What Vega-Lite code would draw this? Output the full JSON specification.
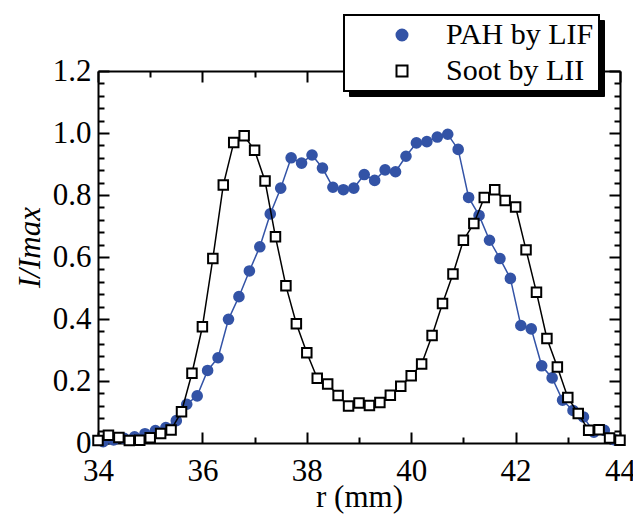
{
  "$schema": "https://vega.github.io/schema/vega-lite/v6.json",
  "width": 522,
  "height": 372,
  "autosize": {"type": "none"},
  "padding": {"left": 98, "top": 71, "right": 13, "bottom": 73},
  "config": {"view": {"stroke": null}},
  "data": {
    "values": [
      {"series": "PAH by LIF", "r": 34.1, "I": 0.004},
      {"series": "PAH by LIF", "r": 34.3, "I": 0.01},
      {"series": "PAH by LIF", "r": 34.5, "I": 0.015},
      {"series": "PAH by LIF", "r": 34.7, "I": 0.02},
      {"series": "PAH by LIF", "r": 34.9, "I": 0.03},
      {"series": "PAH by LIF", "r": 35.1, "I": 0.04},
      {"series": "PAH by LIF", "r": 35.3, "I": 0.05},
      {"series": "PAH by LIF", "r": 35.5, "I": 0.072},
      {"series": "PAH by LIF", "r": 35.7, "I": 0.125},
      {"series": "PAH by LIF", "r": 35.9, "I": 0.152},
      {"series": "PAH by LIF", "r": 36.1, "I": 0.234},
      {"series": "PAH by LIF", "r": 36.3, "I": 0.275},
      {"series": "PAH by LIF", "r": 36.5, "I": 0.399},
      {"series": "PAH by LIF", "r": 36.7, "I": 0.472},
      {"series": "PAH by LIF", "r": 36.9, "I": 0.555},
      {"series": "PAH by LIF", "r": 37.1, "I": 0.633},
      {"series": "PAH by LIF", "r": 37.3, "I": 0.739},
      {"series": "PAH by LIF", "r": 37.5, "I": 0.822},
      {"series": "PAH by LIF", "r": 37.7, "I": 0.92},
      {"series": "PAH by LIF", "r": 37.9, "I": 0.903},
      {"series": "PAH by LIF", "r": 38.1, "I": 0.929},
      {"series": "PAH by LIF", "r": 38.3, "I": 0.887},
      {"series": "PAH by LIF", "r": 38.5, "I": 0.825},
      {"series": "PAH by LIF", "r": 38.7, "I": 0.817},
      {"series": "PAH by LIF", "r": 38.9, "I": 0.822},
      {"series": "PAH by LIF", "r": 39.1, "I": 0.866},
      {"series": "PAH by LIF", "r": 39.3, "I": 0.847},
      {"series": "PAH by LIF", "r": 39.5, "I": 0.881},
      {"series": "PAH by LIF", "r": 39.7, "I": 0.875},
      {"series": "PAH by LIF", "r": 39.9, "I": 0.925},
      {"series": "PAH by LIF", "r": 40.1, "I": 0.968},
      {"series": "PAH by LIF", "r": 40.3, "I": 0.972},
      {"series": "PAH by LIF", "r": 40.5, "I": 0.987},
      {"series": "PAH by LIF", "r": 40.7, "I": 0.996},
      {"series": "PAH by LIF", "r": 40.9, "I": 0.947},
      {"series": "PAH by LIF", "r": 41.1, "I": 0.792},
      {"series": "PAH by LIF", "r": 41.3, "I": 0.734},
      {"series": "PAH by LIF", "r": 41.5, "I": 0.654},
      {"series": "PAH by LIF", "r": 41.7, "I": 0.595},
      {"series": "PAH by LIF", "r": 41.9, "I": 0.531},
      {"series": "PAH by LIF", "r": 42.1, "I": 0.379},
      {"series": "PAH by LIF", "r": 42.3, "I": 0.368},
      {"series": "PAH by LIF", "r": 42.5, "I": 0.249},
      {"series": "PAH by LIF", "r": 42.7, "I": 0.21},
      {"series": "PAH by LIF", "r": 42.9, "I": 0.138},
      {"series": "PAH by LIF", "r": 43.1, "I": 0.105},
      {"series": "PAH by LIF", "r": 43.3, "I": 0.084},
      {"series": "PAH by LIF", "r": 43.5, "I": 0.035},
      {"series": "PAH by LIF", "r": 43.7, "I": 0.041},
      {"series": "PAH by LIF", "r": 43.9, "I": 0.01},
      {"series": "Soot by LII", "r": 34.0, "I": 0.008},
      {"series": "Soot by LII", "r": 34.2, "I": 0.025},
      {"series": "Soot by LII", "r": 34.4, "I": 0.018},
      {"series": "Soot by LII", "r": 34.6, "I": 0.008},
      {"series": "Soot by LII", "r": 34.8, "I": 0.009},
      {"series": "Soot by LII", "r": 35.0, "I": 0.017},
      {"series": "Soot by LII", "r": 35.2, "I": 0.031},
      {"series": "Soot by LII", "r": 35.4, "I": 0.042},
      {"series": "Soot by LII", "r": 35.6, "I": 0.101},
      {"series": "Soot by LII", "r": 35.8, "I": 0.225},
      {"series": "Soot by LII", "r": 36.0, "I": 0.375},
      {"series": "Soot by LII", "r": 36.2, "I": 0.595},
      {"series": "Soot by LII", "r": 36.4, "I": 0.832},
      {"series": "Soot by LII", "r": 36.6, "I": 0.969},
      {"series": "Soot by LII", "r": 36.8, "I": 0.991},
      {"series": "Soot by LII", "r": 37.0, "I": 0.944},
      {"series": "Soot by LII", "r": 37.2, "I": 0.845},
      {"series": "Soot by LII", "r": 37.4, "I": 0.665},
      {"series": "Soot by LII", "r": 37.6, "I": 0.507},
      {"series": "Soot by LII", "r": 37.8, "I": 0.385},
      {"series": "Soot by LII", "r": 38.0, "I": 0.291},
      {"series": "Soot by LII", "r": 38.2, "I": 0.209},
      {"series": "Soot by LII", "r": 38.4, "I": 0.19},
      {"series": "Soot by LII", "r": 38.6, "I": 0.153},
      {"series": "Soot by LII", "r": 38.8, "I": 0.119},
      {"series": "Soot by LII", "r": 39.0, "I": 0.129},
      {"series": "Soot by LII", "r": 39.2, "I": 0.121},
      {"series": "Soot by LII", "r": 39.4, "I": 0.131},
      {"series": "Soot by LII", "r": 39.6, "I": 0.154},
      {"series": "Soot by LII", "r": 39.8, "I": 0.183},
      {"series": "Soot by LII", "r": 40.0, "I": 0.217},
      {"series": "Soot by LII", "r": 40.2, "I": 0.255},
      {"series": "Soot by LII", "r": 40.4, "I": 0.347},
      {"series": "Soot by LII", "r": 40.6, "I": 0.45},
      {"series": "Soot by LII", "r": 40.8, "I": 0.545},
      {"series": "Soot by LII", "r": 41.0, "I": 0.654},
      {"series": "Soot by LII", "r": 41.2, "I": 0.708},
      {"series": "Soot by LII", "r": 41.4, "I": 0.792},
      {"series": "Soot by LII", "r": 41.6, "I": 0.817},
      {"series": "Soot by LII", "r": 41.8, "I": 0.782},
      {"series": "Soot by LII", "r": 42.0, "I": 0.761},
      {"series": "Soot by LII", "r": 42.2, "I": 0.623},
      {"series": "Soot by LII", "r": 42.4, "I": 0.486},
      {"series": "Soot by LII", "r": 42.6, "I": 0.337},
      {"series": "Soot by LII", "r": 42.8, "I": 0.245},
      {"series": "Soot by LII", "r": 43.0, "I": 0.147},
      {"series": "Soot by LII", "r": 43.2, "I": 0.095},
      {"series": "Soot by LII", "r": 43.4, "I": 0.041},
      {"series": "Soot by LII", "r": 43.6, "I": 0.043},
      {"series": "Soot by LII", "r": 43.8, "I": 0.016},
      {"series": "Soot by LII", "r": 44.0, "I": 0.009}
    ]
  },
  "resolve": {"axis": {"x": "independent", "y": "independent"}},
  "layer": [
    {
      "transform": [{"filter": "datum.series === 'PAH by LIF'"}],
      "mark": {"type": "line", "strokeWidth": 1.5, "color": "#3353a6"},
      "encoding": {
        "x": {
          "field": "r", "type": "quantitative",
          "scale": {"domain": [34, 44], "nice": false, "zero": false},
          "axis": {
            "orient": "bottom",
            "grid": false,
            "values": [34, 36, 38, 40, 42, 44],
            "domainColor": "black", "domainWidth": 2,
            "tickColor": "black", "tickWidth": 2, "tickSize": -11,
            "labelFont": "Liberation Serif", "labelFontSize": 31, "labelColor": "black",
            "labelPadding": 24,
            "labelFlush": false,
            "title": "r (mm)",
            "titleFont": "Liberation Serif", "titleFontSize": 31, "titleFontWeight": "normal", "titleColor": "black",
            "titlePadding": -4
          }
        },
        "y": {
          "field": "I", "type": "quantitative",
          "scale": {"domain": [0, 1.2], "nice": false},
          "axis": {
            "orient": "left",
            "grid": false,
            "values": [0, 0.2, 0.4, 0.6, 0.8, 1.0, 1.2],
            "labelExpr": "datum.value === 0 ? '0' : format(datum.value, '.1f')",
            "domainColor": "black", "domainWidth": 2,
            "tickColor": "black", "tickWidth": 2, "tickSize": -11,
            "labelFont": "Liberation Serif", "labelFontSize": 31, "labelColor": "black",
            "labelPadding": 18,
            "title": "I/Imax",
            "titleFont": "Liberation Serif", "titleFontSize": 31, "titleFontWeight": "normal", "titleColor": "black",
            "titleFontStyle": "italic",
            "titlePadding": 6,
            "titleY": 176
          }
        },
        "opacity": {
          "field": "series", "type": "nominal",
          "scale": {"domain": ["Soot by LII", "PAH by LIF"], "range": [1, 1]},
          "legend": {
            "orient": "none",
            "legendX": 251,
            "legendY": -51,
            "title": null,
            "fillColor": "black",
            "strokeColor": "black",
            "padding": 5,
            "labelFont": "Liberation Serif",
            "labelFontSize": 30,
            "labelColor": "black",
            "labelLimit": 400,
            "labelExpr": "datum.label + '\u00a0'",
            "symbolSize": 121,
            "symbolOffset": 38,
            "labelOffset": 29,
            "rowPadding": 6,
            "encode": {
              "symbols": {
                "update": {
                  "fill": {"value": "black"},
                  "stroke": {"value": "black"},
                  "opacity": {"value": 0}
                }
              }
            }
          }
        }
      }
    },
    {
      "transform": [{"filter": "datum.series === 'PAH by LIF'"}],
      "mark": {"type": "point", "shape": "circle", "filled": true, "size": 135, "color": "#3353a6", "opacity": 1},
      "encoding": {
        "x": {
          "field": "r", "type": "quantitative",
          "axis": {"orient": "bottom", "grid": false, "values": [35, 37, 39, 41, 43], "labels": false, "domain": false, "title": null, "tickColor": "black", "tickWidth": 2, "tickSize": -6}
        },
        "y": {
          "field": "I", "type": "quantitative",
          "axis": {"orient": "left", "grid": false, "values": [0.04, 0.08, 0.12, 0.16, 0.24, 0.28, 0.32, 0.36, 0.44, 0.48, 0.52, 0.56, 0.64, 0.68, 0.72, 0.76, 0.84, 0.88, 0.92, 0.96, 1.04, 1.08, 1.12, 1.16], "labels": false, "domain": false, "title": null, "tickColor": "black", "tickWidth": 2, "tickSize": -6}
        }
      }
    },
    {
      "transform": [{"filter": "datum.series === 'Soot by LII'"}],
      "mark": {"type": "line", "strokeWidth": 1.5},
      "encoding": {
        "x": {
          "field": "r", "type": "quantitative",
          "axis": {"orient": "top", "grid": false, "values": [34, 36, 38, 40, 42, 44], "labels": false, "title": null, "domainColor": "black", "domainWidth": 2, "tickColor": "black", "tickWidth": 2, "tickSize": -11}
        },
        "y": {
          "field": "I", "type": "quantitative",
          "axis": {"orient": "right", "grid": false, "values": [0, 0.2, 0.4, 0.6, 0.8, 1.0, 1.2], "labels": false, "title": null, "domainColor": "black", "domainWidth": 2, "tickColor": "black", "tickWidth": 2, "tickSize": -11}
        },
        "color": {
          "field": "series", "type": "nominal",
          "scale": {"domain": ["PAH by LIF", "Soot by LII"], "range": ["#3353a6", "black"]},
          "legend": {
            "orient": "none",
            "legendX": 246,
            "legendY": -56,
            "title": null,
            "fillColor": "white",
            "strokeColor": "black",
            "padding": 5,
            "labelFont": "Liberation Serif",
            "labelFontSize": 30,
            "labelColor": "black",
            "labelLimit": 400,
            "labelExpr": "datum.label + '\u00a0'",
            "symbolSize": 121,
            "symbolOffset": 38,
            "labelOffset": 29,
            "rowPadding": 6,
            "encode": {
              "legend": {"update": {"strokeWidth": {"value": 2}}},
              "symbols": {
                "update": {
                  "shape": {"signal": "datum.value === 'PAH by LIF' ? 'circle' : 'square'"},
                  "fill": {"signal": "datum.value === 'PAH by LIF' ? '#3353a6' : 'white'"},
                  "stroke": {"signal": "datum.value === 'PAH by LIF' ? '#3353a6' : 'black'"},
                  "strokeWidth": {"value": 2},
                  "opacity": {"value": 1}
                }
              }
            }
          }
        }
      }
    },
    {
      "transform": [{"filter": "datum.series === 'Soot by LII'"}],
      "mark": {"type": "point", "shape": "square", "filled": false, "fill": "white", "stroke": "black", "strokeWidth": 2, "size": 90, "opacity": 1},
      "encoding": {
        "x": {
          "field": "r", "type": "quantitative",
          "axis": {"orient": "top", "grid": false, "values": [35, 37, 39, 41, 43], "labels": false, "domain": false, "title": null, "tickColor": "black", "tickWidth": 2, "tickSize": -6}
        },
        "y": {
          "field": "I", "type": "quantitative",
          "axis": {"orient": "right", "grid": false, "values": [0.04, 0.08, 0.12, 0.16, 0.24, 0.28, 0.32, 0.36, 0.44, 0.48, 0.52, 0.56, 0.64, 0.68, 0.72, 0.76, 0.84, 0.88, 0.92, 0.96, 1.04, 1.08, 1.12, 1.16], "labels": false, "domain": false, "title": null, "tickColor": "black", "tickWidth": 2, "tickSize": -6}
        }
      }
    }
  ]
}
